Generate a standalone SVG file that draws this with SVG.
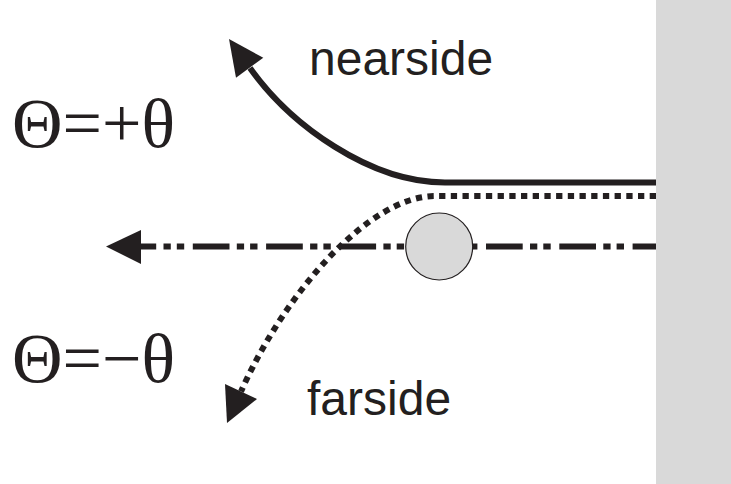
<svg xmlns="http://www.w3.org/2000/svg" width="731" height="484" viewBox="0 0 731 484">
<style>
.ink{fill:#231f20}
.lbl{font-family:"Liberation Sans",Arial,sans-serif;font-size:48px;fill:#231f20}
.eq{font-family:"Liberation Serif","Times New Roman",serif;font-size:70px;fill:#231f20}
.ln{fill:none;stroke:#231f20;stroke-linecap:butt}
</style>
<rect id="wall" x="656" y="0" width="75" height="484" fill="#d9d9d9"/>
<g id="connectors">
<path id="nearside-path" class="ln" stroke-width="6" d="M656,182.5 H445 C370,182.5 290.6,125 250,68"/>
<polygon class="ink" points="229,39 263.3,57.7 236,77.7"/>
<path id="farside-path" class="ln" stroke-width="6" stroke-dasharray="6.3 5.4" d="M656,196 H435 C370,196 285.7,291 241,391.5"/>
<polygon class="ink" points="227,423 225,384 257,399"/>
<path id="axis" class="ln" stroke-width="6" stroke-dasharray="36.7 8.6 7.4 6 7.3 7.3" stroke-dashoffset="13.3" d="M656,246.5 H140"/>
<polygon class="ink" points="106,246.5 141,230 141,264"/>
</g>
<g id="particle">
<circle cx="439.2" cy="246.5" r="33.5" fill="#d9d9d9" stroke="#231f20" stroke-width="1.2"/>
</g>
<g id="label-nearside"><text class="lbl" x="309" y="75">nearside</text></g>
<g id="label-farside"><text class="lbl" x="307" y="415">farside</text></g>
<g id="label-plus"><text class="eq" x="12" y="147">Θ=+θ</text></g>
<g id="label-minus"><text class="eq" x="12" y="382">Θ=−θ</text></g>
</svg>
